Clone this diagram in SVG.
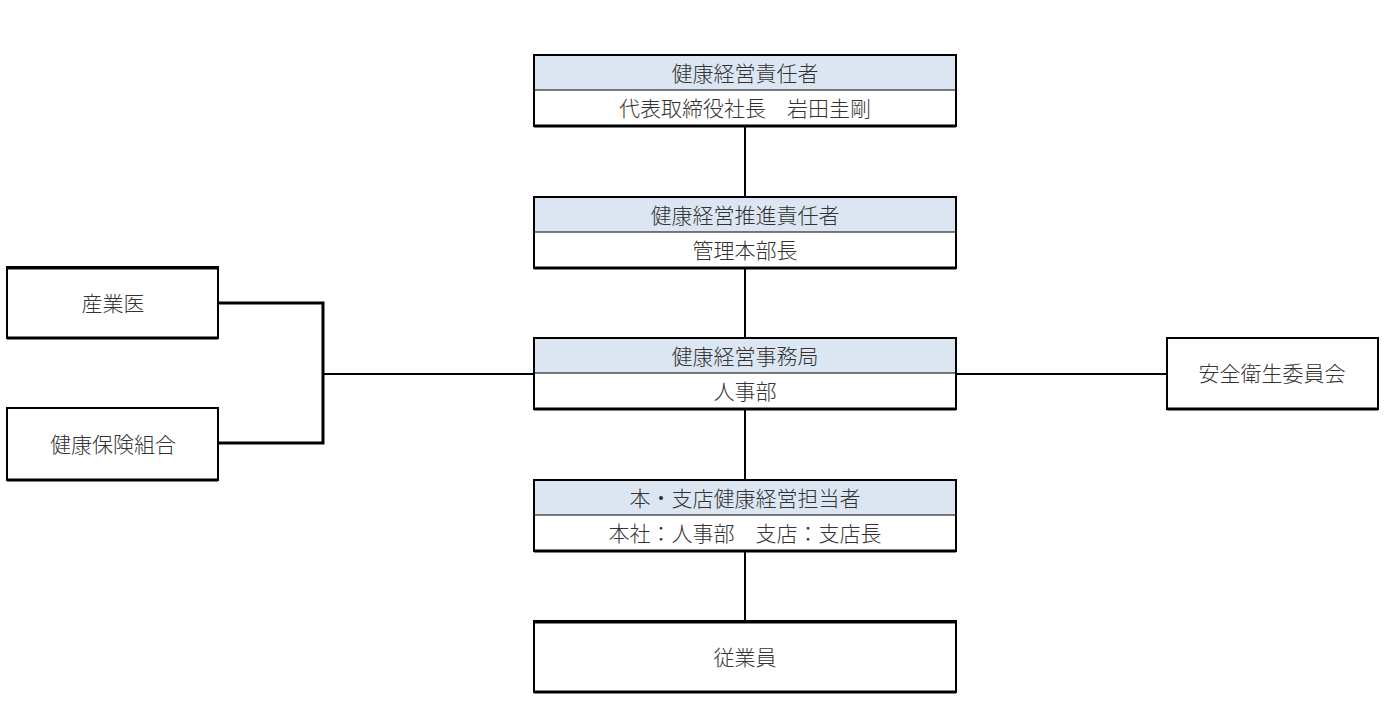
<svg xmlns="http://www.w3.org/2000/svg" width="1386" height="707" viewBox="0 0 1386 707">
<style>
.box{fill:#fff;stroke:#000;stroke-width:2}
.hd{fill:#dce6f2}
.div{stroke:#000;stroke-width:1.2}
.bot{stroke:#000;stroke-width:3}
.t{font-family:"Noto Sans CJK JP","Noto Sans",sans-serif;font-size:21px;font-weight:300;fill:#333;text-anchor:middle;dominant-baseline:central}
.c{fill:none;stroke:#000;stroke-width:2}
.cb{fill:none;stroke:#000;stroke-width:3}
</style>
<rect width="1386" height="707" fill="#fff"/>
<g id="connectors">
<line class="c" x1="745" y1="126" x2="745" y2="197"/>
<line class="c" x1="745" y1="268" x2="745" y2="338"/>
<line class="c" x1="745" y1="409" x2="745" y2="480"/>
<line class="c" x1="745" y1="551" x2="745" y2="621"/>
<line class="c" x1="956" y1="374" x2="1167" y2="374"/>
<line class="c" x1="323" y1="374" x2="534" y2="374"/>
<polyline class="cb" points="218,303 323,303 323,443 218,443"/>
</g>
<g id="n1">
<rect class="box" x="534" y="55" width="422" height="71"/>
<rect class="hd" x="535" y="56" width="420" height="34"/>
<line class="div" x1="534" y1="90" x2="956" y2="90"/>
<line class="bot" x1="534" y1="126" x2="956" y2="126"/>
<text class="t" x="745" y="72">健康経営責任者</text>
<text class="t" x="745" y="107">代表取締役社長　岩田圭剛</text>
</g>
<g id="n2">
<rect class="box" x="534" y="197" width="422" height="71"/>
<rect class="hd" x="535" y="198" width="420" height="34"/>
<line class="div" x1="534" y1="232" x2="956" y2="232"/>
<line class="bot" x1="534" y1="268" x2="956" y2="268"/>
<text class="t" x="745" y="214">健康経営推進責任者</text>
<text class="t" x="745" y="249">管理本部長</text>
</g>
<g id="n3">
<rect class="box" x="534" y="338" width="422" height="71"/>
<rect class="hd" x="535" y="339" width="420" height="34"/>
<line class="div" x1="534" y1="373" x2="956" y2="373"/>
<line class="bot" x1="534" y1="409" x2="956" y2="409"/>
<text class="t" x="745" y="355">健康経営事務局</text>
<text class="t" x="745" y="390">人事部</text>
</g>
<g id="n4">
<rect class="box" x="534" y="480" width="422" height="71"/>
<rect class="hd" x="535" y="481" width="420" height="34"/>
<line class="div" x1="534" y1="515" x2="956" y2="515"/>
<line class="bot" x1="534" y1="551" x2="956" y2="551"/>
<text class="t" x="745" y="497">本・支店健康経営担当者</text>
<text class="t" x="745" y="532">本社：人事部　支店：支店長</text>
</g>
<g id="n5">
<rect class="box" x="534" y="621" width="422" height="71"/>
<line class="bot" x1="534" y1="622" x2="956" y2="622"/>
<line class="bot" x1="534" y1="692" x2="956" y2="692"/>
<text class="t" x="745" y="656">従業員</text>
</g>
<g id="n6">
<rect class="box" x="7" y="267" width="211" height="71"/>
<line class="bot" x1="7" y1="268" x2="218" y2="268"/>
<line class="bot" x1="7" y1="338" x2="218" y2="338"/>
<text class="t" x="113" y="302">産業医</text>
</g>
<g id="n7">
<rect class="box" x="7" y="408" width="211" height="72"/>
<line class="bot" x1="7" y1="480" x2="218" y2="480"/>
<text class="t" x="113" y="443">健康保険組合</text>
</g>
<g id="n8">
<rect class="box" x="1167" y="338" width="211" height="71"/>
<line class="bot" x1="1167" y1="409" x2="1378" y2="409"/>
<text class="t" x="1272" y="372">安全衛生委員会</text>
</g>
</svg>
